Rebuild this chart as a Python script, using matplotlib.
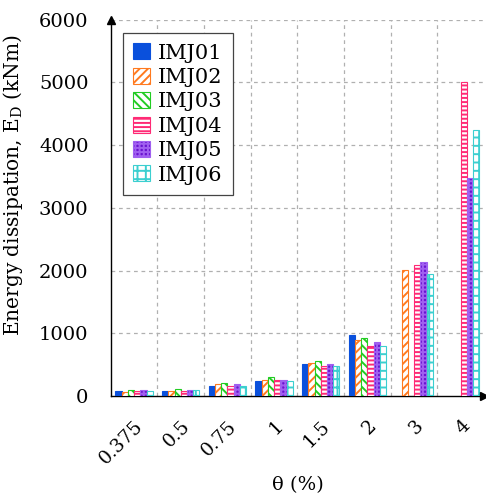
import numpy as np
import matplotlib
matplotlib.use("Agg")
from matplotlib import pyplot as plt

plt.rcParams['font.family'] = ['DejaVu Serif']
plt.rcParams['mathtext.fontset'] = 'dejavuserif'
plt.rcParams['hatch.linewidth'] = 1.4

# drift ratio categories
drift = ['0.375', '0.5', '0.75', '1', '1.5', '2', '3', '4']

# energy dissipation (kNm); 0 = no bar
imj01 = [75, 85, 160, 250, 510, 980, 0, 0]
imj02 = [65, 85, 187, 260, 525, 895, 2005, 0]
imj03 = [100, 110, 215, 300, 555, 925, 0, 0]
imj04 = [90, 90, 170, 260, 480, 800, 2095, 5000]
imj05 = [100, 100, 187, 260, 510, 860, 2135, 3480]
imj06 = [90, 100, 170, 250, 480, 795, 1950, 4250]

series = [imj01, imj02, imj03, imj04, imj05, imj06]
names = ['IMJ01', 'IMJ02', 'IMJ03', 'IMJ04', 'IMJ05', 'IMJ06']
# (face, edge, hatch)
styles = [('#0a50dc', '#0a50dc', None),
          ('white', '#ff7a1f', '////'),
          ('white', '#22cc22', '\\\\\\\\'),
          ('white', '#ff2a75', '----'),
          ('#6a14d0', '#a060f0', '++++'),
          ('white', '#3ccfd0', '++')]

fig = plt.figure(figsize=(4.86, 4.94), dpi=100)
ax = fig.add_axes([0.228, 0.198, 0.768, 0.762])

x = np.arange(len(drift))
w = 0.8 / 6
for i, (vals, nm, st) in enumerate(zip(series, names, styles)):
    v = np.array(vals, dtype=float)
    v[v == 0] = np.nan
    ax.bar(x - 0.4 + w / 2 + i * w, v, w, color=st[0], edgecolor=st[1],
           hatch=st[2], linewidth=0.8, label=nm, zorder=3)

ax.set_xlim(-0.5, 7.5)
ax.set_ylim(0, 6000)
ax.set_yticks([0, 1000, 2000, 3000, 4000, 5000, 6000])
ax.set_xticks(x)
ax.set_xticklabels(drift, rotation=45, ha='right', va='top', rotation_mode='anchor')
ax.tick_params(axis='both', length=0)
ax.tick_params(axis='x', pad=15, labelsize=13.5)
ax.tick_params(axis='y', pad=16, labelsize=14)

# grid: horizontal at ticks, vertical between groups
for yy in [1000, 2000, 3000, 4000, 5000, 6000]:
    ax.axhline(yy, color='#b0b0b0', ls=(0, (3, 3)), lw=0.9, zorder=1)
for xx in np.arange(0.5, 7.5, 1):
    ax.axvline(xx, color='#b0b0b0', ls=(0, (3, 3)), lw=0.9, zorder=1)

ax.spines['top'].set_visible(False)
ax.spines['right'].set_visible(False)
ax.spines['left'].set_linewidth(1.0)
ax.spines['bottom'].set_linewidth(1.0)
ax.plot(0, 1, '^k', ms=6, transform=ax.transAxes, clip_on=False, zorder=5)
ax.plot(1, 0, '>k', ms=6, transform=ax.transAxes, clip_on=False, zorder=5)

ax.set_ylabel('Energy dissipation, E$_\\mathrm{D}$ (kNm)', fontsize=14.5)
ax.yaxis.set_label_coords(-0.23, 0.56)
ax.set_xlabel('θ (%)', fontsize=14, labelpad=6)

leg = ax.legend(loc='upper left', bbox_to_anchor=(0.032, 0.965), borderaxespad=0,
                fontsize=15, fancybox=False, edgecolor='#444444', framealpha=1,
                handlelength=0.8, handleheight=0.8, handletextpad=0.4,
                labelspacing=0.25, borderpad=0.5)
leg.get_frame().set_linewidth(0.9)
leg.set_zorder(6)

fig.savefig('out.png', dpi=100)
